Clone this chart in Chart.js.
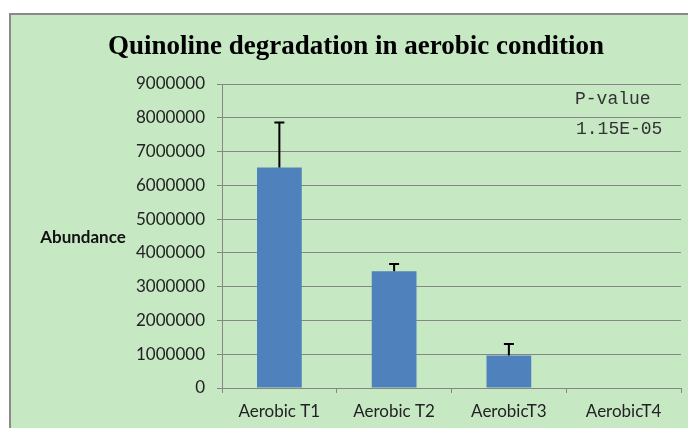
<!DOCTYPE html>
<html>
<head>
<meta charset="utf-8">
<script src="https://cdn.jsdelivr.net/npm/chart.js@4"></script>
<style>
  html, body { margin: 0; padding: 0; background: #fff; width: 688px; height: 428px; overflow: hidden; }
  #caixa { position: absolute; left: 9px; top: 13px; width: 700px; height: 430px; background: #c6e9c4; border: 2px solid #8a8a8a; box-sizing: border-box; }
  #grafico { position: absolute; left: 0; top: 0; }
</style>
</head>
<body>
<div id="caixa"></div>
<canvas id="grafico" width="688" height="428"></canvas>
<script>
// Dados
const categorias = ["Aerobic T1", "Aerobic T2", "AerobicT3", "AerobicT4"];
const abundancia = [6530000, 3460000, 960000, 0];
const erroSuperior = [1330000, 210000, 340000, 0];
const pValor = ["P-value", "1.15E-05"];

// Plugin: título, rótulo do eixo, barras de erro e P-value
const extras = {
  id: "extras",
  afterDatasetsDraw(chart) {
    const ctx = chart.ctx;
    const y = chart.scales.y;
    const meta = chart.getDatasetMeta(0);

    // barras de erro
    ctx.save();
    ctx.strokeStyle = "#000";
    ctx.lineWidth = 2;
    meta.data.forEach((bar, i) => {
      if (!erroSuperior[i]) return;
      const topo = y.getPixelForValue(abundancia[i] + erroSuperior[i]);
      ctx.beginPath();
      ctx.moveTo(bar.x, bar.y);
      ctx.lineTo(bar.x, topo);
      ctx.moveTo(bar.x - 5, topo);
      ctx.lineTo(bar.x + 5, topo);
      ctx.stroke();
    });
    ctx.restore();
  },
  afterDraw(chart) {
    const ctx = chart.ctx;
    ctx.save();
    ctx.fillStyle = "#000";
    ctx.textAlign = "center";
    ctx.textBaseline = "middle";
    ctx.font = "bold 27px 'Liberation Serif'";
    ctx.fillText("Quinoline degradation in aerobic condition", 356, 47);

    ctx.font = "bold 17px Lato";
    ctx.fillStyle = "#111";
    ctx.fillText("Abundance", 83, 238);

    ctx.font = "18px 'Liberation Mono'";
    ctx.fillStyle = "#333";
    ctx.textAlign = "left";
    ctx.fillText(pValor[0], 575, 99);
    ctx.fillText(pValor[1], 576, 129);
    ctx.restore();
  }
};

new Chart(document.getElementById("grafico"), {
  type: "bar",
  data: {
    labels: categorias,
    datasets: [{
      data: abundancia,
      backgroundColor: "#4f81bd",
      borderWidth: 0,
      categoryPercentage: 1,
      barPercentage: 0.39
    }]
  },
  options: {
    responsive: false,
    animation: false,
    events: [],
    layout: { padding: { top: 84, right: 7, left: 0, bottom: 0 } },
    plugins: { legend: { display: false }, tooltip: { enabled: false } },
    scales: {
      x: {
        afterFit: (s) => { s.height = 40; },
        grid: { offset: true, drawOnChartArea: false, color: "#868686", tickLength: 5 },
        border: { color: "#868686" },
        ticks: { color: "#222", padding: 8, font: { family: "Lato", size: 17 } }
      },
      y: {
        min: 0,
        max: 9000000,
        afterFit: (s) => { s.width = 222; },
        grid: { color: "#868686", tickLength: 5 },
        border: { color: "#868686" },
        ticks: {
          stepSize: 1000000, color: "#222", padding: 12,
          font: { family: "Lato", size: 17 },
          callback: (v) => String(v)
        }
      }
    }
  },
  plugins: [extras]
});
</script>
</body>
</html>
